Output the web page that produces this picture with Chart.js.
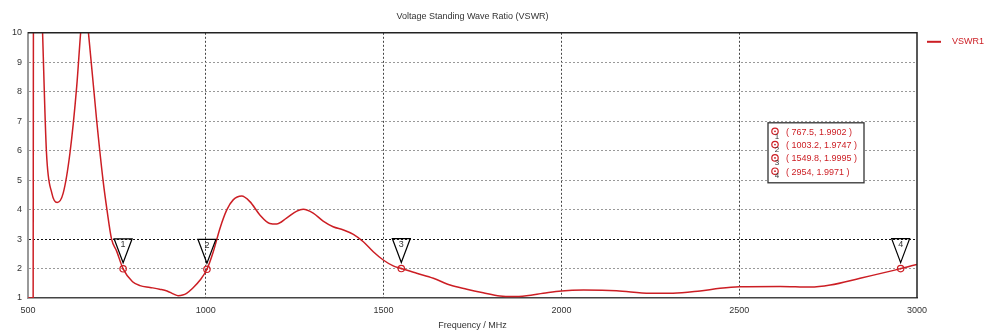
<!DOCTYPE html>
<html>
<head>
<meta charset="utf-8">
<script src="https://cdn.jsdelivr.net/npm/chart.js"></script>
<style>
html, body { margin: 0; padding: 0; background: #fff; }
</style>
</head>
<body>
<canvas id="VswrChart" width="1000" height="333"></canvas>
<script>
// frequency (MHz) and VSWR
var freqs = [500, 514.5, 515.5, 530, 541, 552, 567, 582, 599, 618, 637, 648, 659, 670, 693, 711, 722, 735, 749,
    767.5, 794, 815, 843, 870, 891, 910, 922, 935, 946, 963, 984, 1003.2, 1021, 1040, 1059, 1077, 1101, 1124, 1152,
    1180, 1199, 1227, 1256, 1274, 1302, 1330, 1358, 1387, 1415, 1443, 1471, 1499, 1527, 1549.8, 1593, 1640, 1687,
    1734, 1780, 1827, 1864, 1902, 1949, 2000, 2062, 2155, 2249, 2314, 2390, 2446, 2500, 2615, 2700, 2756, 2840,
    2954, 3000];
var vswr = [1.0, 1.0, 14, 14.5, 10, 5.92, 4.56, 4.24, 4.56, 5.92, 8.18, 10, 11.5, 10, 7.04, 5.0, 4.0, 3.0, 2.6,
    1.9902, 1.55, 1.42, 1.36, 1.30, 1.24, 1.13, 1.08, 1.10, 1.16, 1.33, 1.61, 1.9747, 2.57, 3.37, 3.99, 4.33, 4.46, 4.27, 3.82,
    3.53, 3.51, 3.71, 3.95, 4.01, 3.88, 3.61, 3.42, 3.31, 3.16, 2.91, 2.57, 2.29, 2.09, 1.9995, 1.84, 1.67, 1.44,
    1.30, 1.18, 1.07, 1.05, 1.08, 1.16, 1.24, 1.27, 1.25, 1.16, 1.16, 1.24, 1.33, 1.38, 1.39, 1.37, 1.44, 1.67,
    1.9971, 2.14];

var markerFreqs = [767.5, 1003.2, 1549.8, 2954];
var markerVswr = [1.9902, 1.9747, 1.9995, 1.9971];

var xTicks = [500, 1000, 1500, 2000, 2500, 3000];
var yTicks = [1, 2, 3, 4, 5, 6, 7, 8, 9, 10];

var FONT = '"Liberation Sans", Arial, sans-serif';
var RED = 'rgb(204, 30, 36)';

var points = freqs.map(function (f, i) { return { x: f, y: vswr[i] }; });

function drawMarkerCircle(ctx, x, y) {
    ctx.strokeStyle = RED;
    ctx.lineWidth = 1.2;
    ctx.beginPath();
    ctx.arc(x, y, 3.2, 0, Math.PI * 2);
    ctx.stroke();
    ctx.fillStyle = RED;
    ctx.beginPath();
    ctx.arc(x, y, 0.9, 0, Math.PI * 2);
    ctx.fill();
}

var extras = {
    id: 'extras',
    afterDatasetsDraw: function (chart) {
        var ctx = chart.ctx;
        var xs = chart.scales.x;
        var ys = chart.scales.y;
        var area = chart.chartArea;
        ctx.save();
        ctx.setLineDash([]);

        // top and right frame
        ctx.strokeStyle = '#222';
        ctx.lineWidth = 1.5;
        ctx.beginPath();
        ctx.moveTo(area.left, area.top);
        ctx.lineTo(area.right, area.top);
        ctx.lineTo(area.right, area.bottom);
        ctx.stroke();

        // markers
        for (var i = 0; i < markerFreqs.length; i++) {
            var px = xs.getPixelForValue(markerFreqs[i]);
            var py = ys.getPixelForValue(markerVswr[i]);
            ctx.strokeStyle = '#000';
            ctx.lineWidth = 1.2;
            ctx.beginPath();
            ctx.moveTo(px - 9, py - 30);
            ctx.lineTo(px + 9, py - 30);
            ctx.lineTo(px, py - 6);
            ctx.closePath();
            ctx.stroke();
            ctx.fillStyle = '#333';
            ctx.font = '9px ' + FONT;
            ctx.textAlign = 'center';
            ctx.textBaseline = 'middle';
            ctx.fillText(String(i + 1), px, py - 24);
            drawMarkerCircle(ctx, px, py);
        }

        // marker table
        var bx = area.right - 149, by = area.top + 90, bw = 96, bh = 60;
        ctx.fillStyle = '#fff';
        ctx.fillRect(bx, by, bw, bh);
        ctx.strokeStyle = '#333';
        ctx.lineWidth = 1.3;
        ctx.strokeRect(bx, by, bw, bh);
        for (var j = 0; j < markerFreqs.length; j++) {
            var ry = by + 9.5 + j * 13.3;
            drawMarkerCircle(ctx, bx + 7, ry - 1);
            ctx.fillStyle = '#333';
            ctx.font = '8px ' + FONT;
            ctx.textAlign = 'center';
            ctx.textBaseline = 'middle';
            ctx.fillText(String(j + 1), bx + 9, ry + 4);
            ctx.fillStyle = RED;
            ctx.font = '9px ' + FONT;
            ctx.textAlign = 'left';
            ctx.fillText('( ' + markerFreqs[j] + ', ' + markerVswr[j].toFixed(4) + ' )', bx + 18, ry);
        }

        // legend
        ctx.strokeStyle = RED;
        ctx.lineWidth = 2;
        ctx.beginPath();
        ctx.moveTo(area.right + 10, area.top + 9);
        ctx.lineTo(area.right + 24, area.top + 9);
        ctx.stroke();
        ctx.fillStyle = RED;
        ctx.font = '9px ' + FONT;
        ctx.textAlign = 'left';
        ctx.textBaseline = 'middle';
        ctx.fillText('VSWR1', area.right + 35, area.top + 9);

        ctx.restore();
    }
};

var config = {
    type: 'line',
    data: {
        datasets: [{
            label: 'VSWR1',
            data: points,
            borderColor: RED,
            borderWidth: 1.5,
            pointRadius: 0,
            cubicInterpolationMode: 'monotone',
            fill: false
        }]
    },
    options: {
        responsive: false,
        animation: false,
        layout: { padding: { left: 0, right: 83, top: 0, bottom: 0 } },
        plugins: {
            legend: { display: false },
            tooltip: { enabled: false },
            title: {
                display: true,
                text: 'Voltage Standing Wave Ratio (VSWR)',
                fullSize: false,
                color: '#333',
                font: { family: FONT, size: 9, weight: 'normal' },
                padding: { top: 11, bottom: 11 }
            }
        },
        scales: {
            x: {
                type: 'linear',
                min: 500,
                max: 3000,
                afterBuildTicks: function (scale) {
                    scale.ticks = xTicks.map(function (v) { return { value: v }; });
                },
                afterFit: function (scale) { scale.height = 35; },
                ticks: {
                    color: '#333',
                    font: { family: FONT, size: 9 },
                    padding: 7,
                    maxRotation: 0,
                    callback: function (v) { return String(v); }
                },
                grid: {
                    drawTicks: false,
                    color: function (c) {
                        var v = c.tick ? c.tick.value : 0;
                        return (v === 500 || v === 3000) ? 'rgba(0,0,0,0)' : '#444';
                    }
                },
                border: { color: '#444', width: 1.5, dash: [2, 2] },
                title: {
                    display: true,
                    text: 'Frequency / MHz',
                    color: '#333',
                    font: { family: FONT, size: 9 },
                    padding: { top: 0, bottom: 2 }
                }
            },
            y: {
                min: 1,
                max: 10,
                afterBuildTicks: function (scale) {
                    scale.ticks = yTicks.map(function (v) { return { value: v }; });
                },
                afterFit: function (scale) { scale.width = 28; },
                ticks: { color: '#333', font: { family: FONT, size: 9 }, padding: 6 },
                grid: {
                    drawTicks: false,
                    color: function (c) {
                        var v = c.tick ? c.tick.value : 0;
                        if (v === 1 || v === 10) return 'rgba(0,0,0,0)';
                        return v === 3 ? '#111' : '#999';
                    }
                },
                border: { color: '#999', width: 2, dash: [2, 2] }
            }
        }
    },
    plugins: [extras]
};

var vswrChart = new Chart(document.getElementById('VswrChart'), config);
</script>
</body>
</html>
